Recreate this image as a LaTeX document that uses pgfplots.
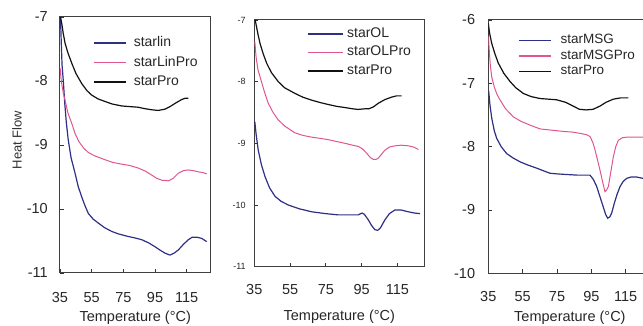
\documentclass[border=0pt]{standalone}
\usepackage{pgfplots}
\pgfplotsset{compat=1.18}
\usepackage{fontspec}
\setmainfont{Liberation Sans}
\definecolor{cblue}{HTML}{2E2F85}
\definecolor{cpink}{HTML}{E0558F}
\definecolor{cblack}{HTML}{111111}
\pgfplotsset{
  dsc/.style={
    scale only axis, anchor=south west,
    xmin=35, xmax=130,
    xtick={35,55,75,95,115},
    xticklabels={35,55,75,95,115},
    tick align=inside, tick pos=left,
    major tick length=4pt,
    tick style={black!80, line width=0.9pt},
    axis line style={black!75, line width=1pt},
    xticklabel style={font=\fontsize{14.5}{14.5}\selectfont, anchor=center, inner sep=0pt, text=black!85},
    yticklabel style={font=\fontsize{14.5}{14.5}\selectfont, anchor=east, inner sep=0pt, text=black!85},
    xlabel={Temperature (°C)},
    every axis x label/.style={at={(rel axis cs:0.5,0)}, anchor=center, font=\fontsize{14.5}{14.5}\selectfont, text=black!85},
    legend cell align=left,
    legend image code/.code={\draw[#1, line width=1.3pt] (0pt,0pt) -- (32pt,0pt);},
    legend style={draw=none, fill=none, inner sep=0pt, row sep=4.5pt,
      nodes={inner sep=1pt, text height=10pt, text depth=3pt},
      font=\fontsize{14}{14}\selectfont, text=black!85},
  },
  bl/.style={cblue, line width=1.2pt},
  pk/.style={cpink, line width=1.0pt},
  bk/.style={cblack, line width=1.2pt},
}
\begin{document}
\begin{tikzpicture}
\path[use as bounding box] (0,0) rectangle (643pt,326pt);
% ---------- panel 1 ----------
\begin{axis}[dsc, at={(60pt,53pt)}, width=150.5pt, height=256pt,
  ymin=-11, ymax=-7, ytick={-11,-10,-9,-8,-7}, yticklabels={-11,-10,-9,-8,-7},
  xticklabel style={yshift=-25pt},
  yticklabel style={xshift=-12pt},
  every axis x label/.append style={yshift=-45pt},
  ylabel={Heat Flow},
  every axis y label/.style={at={(rel axis cs:-0.286,0.52)}, rotate=90, anchor=center, font=\fontsize{13}{13}\selectfont, text=black!80},
  legend style={at={(rel axis cs:0.221,0.928)}, anchor=north west, column sep=6pt},
]
\addplot[bl] coordinates {(35.3,-7.0) (35.8,-7.4) (36.3,-7.75) (37.1,-8.0) (38.0,-8.35) (39.0,-8.65) (40.2,-8.92) (42.0,-9.2) (44.5,-9.44) (46.5,-9.65) (48.7,-9.81) (50.8,-9.95) (52.9,-10.07) (56,-10.16) (59.2,-10.22) (63,-10.29) (67.6,-10.35) (72,-10.39) (78.1,-10.43) (82,-10.45) (86.6,-10.48) (91,-10.53) (95,-10.59) (98,-10.64) (101.3,-10.69) (104.4,-10.72) (107,-10.69) (109.7,-10.64) (113,-10.55) (116,-10.48) (118.5,-10.44) (121.3,-10.44) (124.5,-10.46) (127.6,-10.51)};
\addlegendentry{starlin}
\addplot[pk] coordinates {(35.1,-7.8) (35.6,-7.95) (36.3,-8.08) (37.2,-8.2) (38.2,-8.3) (40,-8.5) (42.4,-8.66) (44.5,-8.82) (47,-8.95) (50,-9.05) (53,-9.12) (57,-9.17) (63.4,-9.23) (68,-9.27) (74,-9.3) (79,-9.32) (84.4,-9.36) (89,-9.41) (92.9,-9.47) (96,-9.52) (99.2,-9.55) (103.4,-9.56) (106.5,-9.52) (109.7,-9.44) (113,-9.4) (116,-9.39) (119,-9.4) (122.3,-9.42) (125,-9.43) (127.6,-9.45)};
\addlegendentry{starLinPro}
\addplot[bk] coordinates {(35.3,-7.0) (36.1,-7.1) (37,-7.25) (38.2,-7.41) (40,-7.56) (42.4,-7.72) (45,-7.88) (48.7,-8.04) (52,-8.15) (55,-8.22) (59,-8.28) (63.4,-8.32) (68,-8.36) (74,-8.39) (79,-8.4) (84.4,-8.41) (88,-8.43) (92.9,-8.45) (97,-8.46) (101.3,-8.44) (104.5,-8.4) (107.6,-8.35) (111.8,-8.29) (114,-8.27) (116,-8.27)};
\addlegendentry{starPro}
\end{axis}
% ---------- panel 2 ----------
\begin{axis}[dsc, at={(254.3pt,59.3pt)}, width=170pt, height=246.7pt,
  ymin=-11, ymax=-7, ytick={-11,-10,-9,-8,-7}, yticklabels={-11,-10,-9,-8,-7},
  yticklabel style={font=\fontsize{9}{9}\selectfont, xshift=-8.5pt},
  xticklabel style={yshift=-23.3pt},
  every axis x label/.append style={yshift=-50pt},
  legend image code/.code={\draw[#1, line width=1.3pt] (0pt,0pt) -- (35pt,0pt);},
  legend style={at={(rel axis cs:0.308,0.975)}, anchor=north west, row sep=3.5pt, column sep=3pt},
]
\addplot[bl] coordinates {(35.3,-8.65) (36,-8.85) (37.2,-9.11) (39,-9.35) (41,-9.54) (43.5,-9.72) (46.6,-9.86) (50,-9.94) (54,-10.0) (60,-10.06) (67.1,-10.11) (75,-10.14) (81.9,-10.16) (88,-10.16) (93.1,-10.16) (95.2,-10.13) (96.5,-10.15) (98.7,-10.24) (100.5,-10.33) (102.4,-10.40) (104,-10.41) (105.5,-10.37) (108,-10.24) (110.5,-10.14) (113.6,-10.08) (117,-10.08) (121.1,-10.11) (124.5,-10.13) (127.6,-10.14)};
\addlegendentry{starOL}
\addplot[pk] coordinates {(35.3,-7.35) (36,-7.6) (37,-7.8) (38.2,-7.92) (40.5,-8.15) (42.8,-8.35) (45.5,-8.5) (48.4,-8.62) (52,-8.72) (57.7,-8.83) (62,-8.87) (67.1,-8.9) (72,-8.92) (76.3,-8.94) (81,-8.97) (85.7,-9.0) (90,-9.03) (93.1,-9.05) (95.5,-9.09) (97.8,-9.16) (99.8,-9.23) (101.5,-9.26) (103,-9.26) (104.3,-9.24) (106,-9.18) (108,-9.11) (110.5,-9.06) (113.6,-9.04) (117,-9.03) (121.1,-9.04) (124,-9.06) (126.7,-9.10)};
\addlegendentry{starOLPro}
\addplot[bk] coordinates {(35.5,-7.0) (36.3,-7.12) (37.2,-7.25) (38.2,-7.38) (40,-7.55) (41.9,-7.70) (44.5,-7.85) (48.4,-8.0) (52,-8.1) (57.7,-8.19) (62,-8.25) (67.1,-8.30) (72,-8.34) (76.3,-8.37) (81,-8.4) (85.7,-8.42) (90,-8.44) (93,-8.45) (96.8,-8.44) (99,-8.44) (101.5,-8.41) (104.3,-8.35) (108,-8.29) (111.8,-8.25) (114.5,-8.23) (117.3,-8.23)};
\addlegendentry{starPro}
\end{axis}
% ---------- panel 3 ----------
\begin{axis}[dsc, at={(488.3pt,52.7pt)}, width=163.2pt, height=253.3pt,
  ymin=-10, ymax=-6, ytick={-10,-9,-8,-7,-6}, yticklabels={-10,-9,-8,-7,-6},
  xticklabel style={yshift=-23.7pt},
  yticklabel style={xshift=-13pt},
  every axis x label/.append style={yshift=-44.7pt},
  legend style={at={(rel axis cs:0.182,0.948)}, anchor=north west, row sep=1.5pt, column sep=8pt,
    font=\fontsize{13.5}{13.5}\selectfont, nodes={inner sep=1pt, text height=9.5pt, text depth=2.5pt}},
]
\addplot[bl] coordinates {(35.2,-7.12) (36,-7.35) (37,-7.55) (38.5,-7.75) (39.9,-7.87) (42.5,-8.0) (45.7,-8.11) (49.5,-8.18) (53.5,-8.24) (58,-8.29) (63.2,-8.34) (67,-8.38) (70.9,-8.42) (75,-8.43) (80.6,-8.44) (87,-8.45) (94.2,-8.45) (96.2,-8.52) (98.1,-8.63) (100,-8.79) (101.9,-8.95) (103.3,-9.07) (104.5,-9.13) (105.7,-9.11) (106.8,-9.05) (108.5,-8.88) (110,-8.75) (111.7,-8.63) (113.5,-8.55) (115.6,-8.5) (118,-8.48) (121.4,-8.48) (124.9,-8.5) (128,-8.52) (130,-8.53)};
\addlegendentry{starMSG}
\addplot[pk] coordinates {(35.1,-6.26) (35.6,-6.5) (36.2,-6.72) (37,-6.9) (38.5,-7.06) (40,-7.17) (41.8,-7.26) (45,-7.4) (49.6,-7.53) (54,-7.6) (59.3,-7.66) (65.1,-7.72) (72,-7.74) (78.7,-7.76) (84,-7.77) (88.4,-7.79) (92,-7.81) (94.2,-7.84) (95.8,-7.93) (97.1,-8.05) (98.5,-8.2) (100,-8.37) (101.5,-8.55) (102.9,-8.71) (104,-8.68) (104.9,-8.63) (106.3,-8.4) (107.8,-8.16) (109.2,-8.0) (110.7,-7.9) (113,-7.86) (115.6,-7.85) (120,-7.85) (124.9,-7.85) (130,-7.86)};
\addlegendentry{starMSGPro}
\addplot[bk] coordinates {(35,-6.05) (35.7,-6.2) (37,-6.37) (38.8,-6.53) (40.8,-6.68) (44,-6.84) (47.6,-6.97) (51,-7.07) (55.4,-7.16) (60,-7.21) (65.1,-7.24) (70,-7.25) (74.8,-7.26) (80,-7.3) (84.5,-7.36) (88,-7.41) (92,-7.42) (96,-7.41) (100,-7.36) (103.5,-7.3) (107.8,-7.25) (112,-7.23) (116.5,-7.23)};
\addlegendentry{starPro}
\end{axis}
\end{tikzpicture}
\end{document}
